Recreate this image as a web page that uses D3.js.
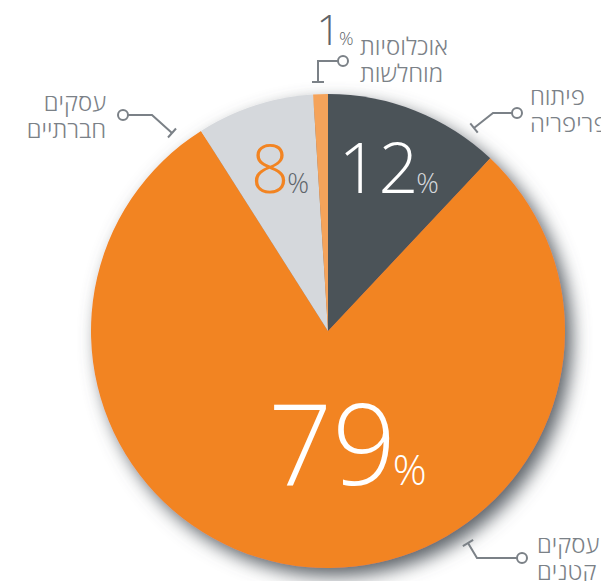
<!DOCTYPE html>
<html>
<head>
<meta charset="utf-8">
<script src="https://cdn.jsdelivr.net/npm/d3@7"></script>
<style>
  body { margin: 0; background: #fff; }
  svg text { font-family: "Open Sans", "DejaVu Sans", sans-serif; }
</style>
</head>
<body>
<div id="chart"></div>
<script>
// data, clockwise from 12 o'clock
const categories = ['פיתוח פריפריה', 'עסקים קטנים', 'עסקים חברתיים', 'אוכלוסיות מוחלשות'];
const values = [12, 79, 8, 1];
const labelLines = [['פיתוח', 'פריפריה'], ['עסקים', 'קטנים'], ['עסקים', 'חברתיים'], ['אוכלוסיות', 'מוחלשות']];

const sliceColors = ['#4b5259', '#f28422', '#d5d8dc', '#f5a35a'];
const numColors = ['#ffffff', '#ffffff', '#f28422', '#5e646a'];
const pctColors = ['#d5d8dc', '#ffffff', '#5e646a', '#5e646a'];
const grey = '#7b8187';

const width = 601;
const height = 581;
const cx = 328;
const cy = 331;
const radius = 237;

const svg = d3.select('#chart')
  .append('svg')
  .attr('width', width)
  .attr('height', height);

const defs = svg.append('defs');
const shadow = defs.append('filter')
  .attr('id', 'shadow')
  .attr('x', '-20%').attr('y', '-20%')
  .attr('width', '140%').attr('height', '140%');
shadow.append('feGaussianBlur').attr('in', 'SourceAlpha').attr('stdDeviation', 9);
shadow.append('feOffset').attr('dx', 7).attr('dy', 8).attr('result', 'off');
shadow.append('feFlood').attr('flood-color', '#5c6268').attr('flood-opacity', 1);
shadow.append('feComposite').attr('in2', 'off').attr('operator', 'in');
const merge = shadow.append('feMerge');
merge.append('feMergeNode');
merge.append('feMergeNode').attr('in', 'SourceGraphic');

const pie = d3.pie().sort(null).value((d) => d);
const arcs = pie(values);
const arc = d3.arc().innerRadius(0).outerRadius(radius);

const groupPie = svg.append('g')
  .attr('transform', `translate(${cx}, ${cy})`);

groupPie.append('g')
  .attr('filter', 'url(#shadow)')
  .selectAll('path')
  .data(arcs)
  .enter()
  .append('path')
  .attr('d', arc)
  .attr('fill', (d, i) => sliceColors[i]);

// percentage labels: [angle offset from slice middle (deg), baseline radius, number size, % size]
const pctLayout = [[2.1, 151, 70, 28], [-12.6, 155, 112, 42], [-1.2, 146, 67, 27], [3.2, 286, 42, 18]];

arcs.forEach((d, i) => {
  const mid = (d.startAngle + d.endAngle) / 2 + pctLayout[i][0] * Math.PI / 180;
  const [x, y] = d3.pointRadial(mid, pctLayout[i][1]);
  const t = groupPie.append('text')
    .attr('x', x)
    .attr('y', y)
    .attr('text-anchor', 'middle')
    .attr('font-weight', 300);
  t.append('tspan')
    .attr('font-size', pctLayout[i][2])
    .attr('fill', numColors[i])
    .text(values[i]);
  t.append('tspan')
    .attr('font-size', pctLayout[i][3])
    .attr('dx', -pctLayout[i][2] * 0.03)
    .attr('fill', pctColors[i])
    .text('%');
});

// category labels with connectors
const callouts = [
  { text: [530, 105], anchor: 'start', path: [[517, 113], [493, 113], [474, 128]] },
  { text: [537, 553], anchor: 'start', path: [[522, 558], [477, 558], [468, 543]] },
  { text: [106, 111], anchor: 'end', path: [[123, 115], [152, 115], [172, 133]] },
  { text: [360, 55], anchor: 'start', path: [[343, 61], [318, 61], [318, 82]] }
];

const groupLabels = svg.append('g').attr('class', 'labels');

callouts.forEach((c, i) => {
  const g = groupLabels.append('g');
  const t = g.append('text')
    .attr('x', c.text[0])
    .attr('y', c.text[1])
    .attr('text-anchor', c.anchor)
    .attr('fill', grey)
    .attr('font-size', 24)
    .attr('font-weight', 300);
  labelLines[i].forEach((line, j) => {
    t.append('tspan')
      .attr('x', c.text[0])
      .attr('dy', j === 0 ? 0 : 27)
      .text(line);
  });

  g.append('path')
    .attr('d', d3.line()(c.path))
    .attr('fill', 'none')
    .attr('stroke', grey)
    .attr('stroke-width', 2);

  // end tick perpendicular to the last segment
  const p1 = c.path[c.path.length - 2];
  const p2 = c.path[c.path.length - 1];
  const dx = p2[0] - p1[0];
  const dy = p2[1] - p1[1];
  const len = Math.hypot(dx, dy);
  const nx = -dy / len * 6;
  const ny = dx / len * 6;
  g.append('line')
    .attr('x1', p2[0] - nx).attr('y1', p2[1] - ny)
    .attr('x2', p2[0] + nx).attr('y2', p2[1] + ny)
    .attr('stroke', grey)
    .attr('stroke-width', 2);

  g.append('circle')
    .attr('cx', c.path[0][0])
    .attr('cy', c.path[0][1])
    .attr('r', 5)
    .attr('fill', '#fff')
    .attr('stroke', grey)
    .attr('stroke-width', 2);
});
</script>
</body>
</html>
